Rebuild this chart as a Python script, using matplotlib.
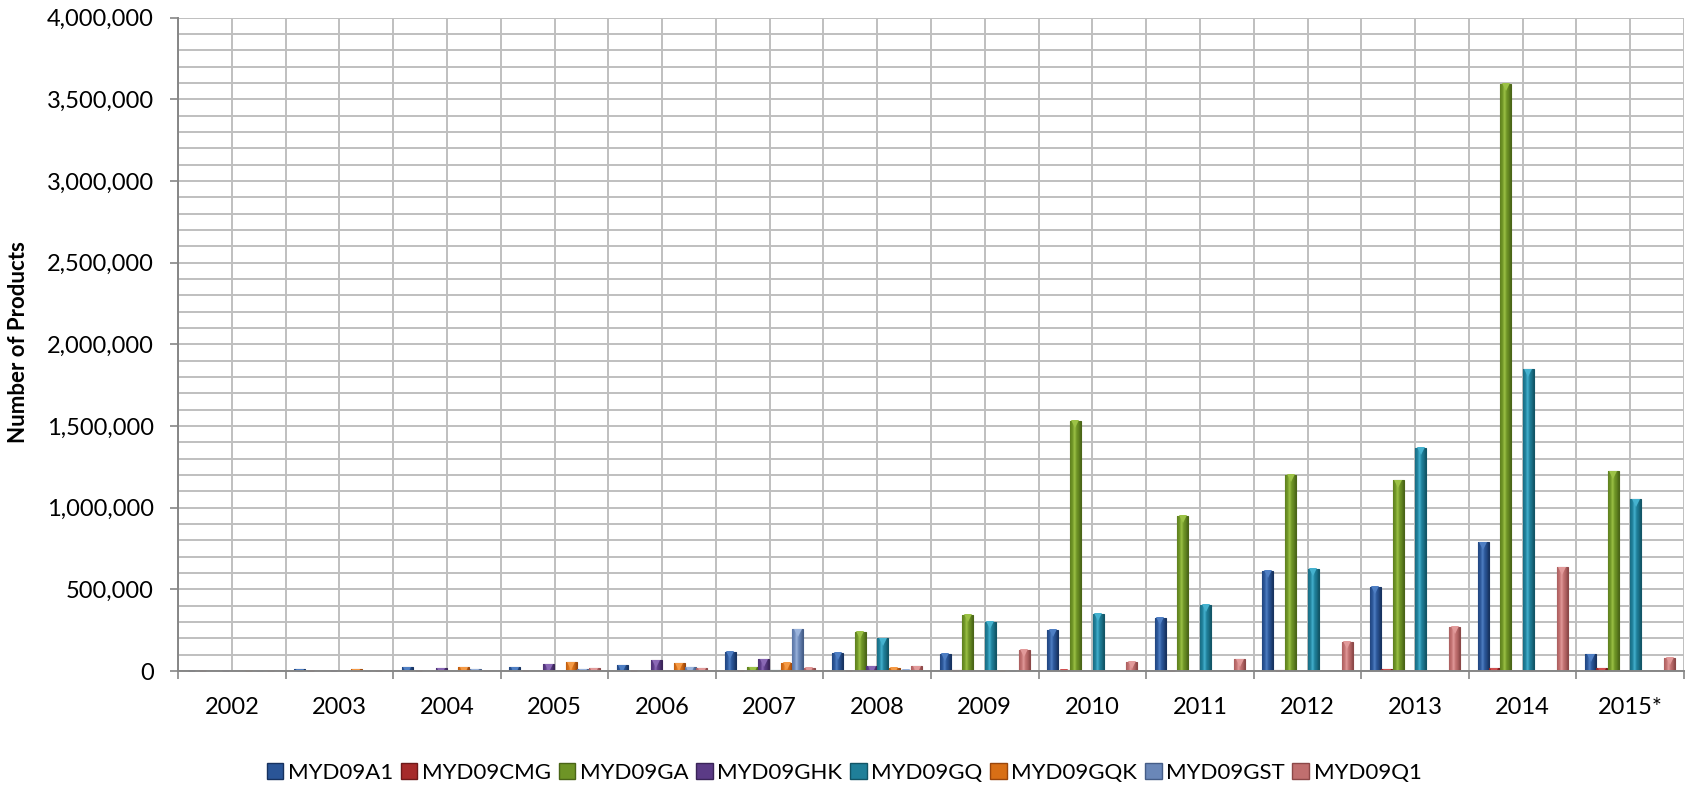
import numpy as np
import matplotlib
matplotlib.use("Agg")
import matplotlib.pyplot as plt
from matplotlib.patches import Patch
from matplotlib import transforms
from matplotlib.ticker import FuncFormatter, MultipleLocator

# ---- data ----
years = ['2002', '2003', '2004', '2005', '2006', '2007', '2008',
         '2009', '2010', '2011', '2012', '2013', '2014', '2015*']

series_names = ['MYD09A1', 'MYD09CMG', 'MYD09GA', 'MYD09GHK',
                'MYD09GQ', 'MYD09GQK', 'MYD09GST', 'MYD09Q1']

myd09a1 = [2000, 10000, 22000, 22000, 35000, 119000, 112000, 106000,
           251000, 327000, 614000, 516000, 788000, 104000]
myd09cmg = [1000, 1000, 2000, 2000, 3000, 3000, 3000, 5000,
            7000, 3000, 5000, 10000, 16000, 16000]
myd09ga = [0, 0, 0, 0, 0, 22000, 241000, 345000,
           1533000, 951000, 1202000, 1169000, 3595000, 1222000]
myd09ghk = [1000, 1000, 16000, 41000, 67000, 71000, 29000, 0,
            0, 0, 0, 0, 0, 0]
myd09gq = [0, 0, 0, 0, 0, 5000, 200000, 302000,
           350000, 405000, 625000, 1368000, 1848000, 1050000]
myd09gqk = [2000, 10000, 22000, 53000, 47000, 52000, 21000, 1000,
            0, 0, 0, 0, 0, 0]
myd09gst = [2000, 2000, 11000, 11000, 22000, 255000, 8000, 1000,
            0, 0, 0, 0, 0, 0]
myd09q1 = [2000, 2000, 3000, 16000, 16000, 21000, 29000, 129000,
           57000, 73000, 178000, 271000, 636000, 82000]

values = [myd09a1, myd09cmg, myd09ga, myd09ghk,
          myd09gq, myd09gqk, myd09gst, myd09q1]

# (edge, body, highlight) colours for each series
palette = [
    ('#17325f', '#2a5597', '#4f7fc4'),
    ('#6e1a1a', '#a62b2b', '#d05050'),
    ('#4a6517', '#6e9426', '#9cc246'),
    ('#3a2458', '#5b3b86', '#8a68b5'),
    ('#125566', '#1f7f99', '#45b2cf'),
    ('#99460c', '#d86f16', '#f59a45'),
    ('#455d87', '#6a87b8', '#9bb4dc'),
    ('#8c4848', '#c06f6f', '#e29a9a'),
]

plt.rcParams['font.family'] = ['Lato', 'DejaVu Sans']

fig = plt.figure(figsize=(16.88, 7.97), dpi=100)
ax = fig.add_axes([178 / 1688, 1 - 671 / 797, (1684 - 178) / 1688, (671 - 17.6) / 797])

n_series = len(series_names)
gap = 1.5                      # gap between groups, in bar widths
bw = 1.0 / (n_series + gap)
x = np.arange(len(years))


def hex2rgb(h):
    h = h.lstrip('#')
    return np.array([int(h[i:i + 2], 16) / 255 for i in (0, 2, 4)])


def cylinder_gradient(edge, body, light, n=64):
    t = np.linspace(0, 1, n)
    e, b, l = hex2rgb(edge), hex2rgb(body), hex2rgb(light)
    d = np.abs(t - 0.42) / 0.58
    cols = []
    for di in d:
        if di < 0.35:
            w = di / 0.35
            c = l * (1 - w) + b * w
        else:
            w = ((di - 0.35) / 0.65) ** 1.4
            c = b * (1 - w) + e * w
        cols.append(c)
    return np.array(cols)[None, :, :]


tri_offset = transforms.offset_copy(ax.transData, fig=fig, x=0, y=-3.5, units='dots')

for i, (name, vals) in enumerate(zip(series_names, values)):
    edge, body, light = palette[i]
    pos = x - 0.5 + gap / 2 * bw + (i + 0.5) * bw
    bars = ax.bar(pos, vals, width=bw * 0.97, color=body, edgecolor=edge,
                  linewidth=0.8, zorder=3, label=name)
    grad = cylinder_gradient(edge, body, light)
    for rect, v in zip(bars, vals):
        if v <= 0:
            continue
        x0 = rect.get_x()
        w = rect.get_width()
        im = ax.imshow(grad, extent=(x0, x0 + w, 0, v), aspect='auto',
                       zorder=3.5, interpolation='bilinear')
        im.set_clip_path(rect)
    # small light triangle on each bar top
    tops = np.array(vals)
    mask = tops > 0
    ax.plot(pos[mask], tops[mask], linestyle='none', marker='v',
            markersize=5.5, color=light, markeredgewidth=0,
            transform=tri_offset, zorder=4)

ax.set_xlim(-0.5, len(years) - 0.5)
ax.set_ylim(0, 4000000)

# gridlines
ax.yaxis.set_major_locator(MultipleLocator(500000))
ax.yaxis.set_minor_locator(MultipleLocator(100000))
ax.grid(which='both', axis='y', color='#bfbfbf', linewidth=1.4, zorder=0)
for xv in np.arange(-0.5, len(years), 0.5):
    ax.axvline(xv, color='#bfbfbf', linewidth=1.4, zorder=0)

ax.yaxis.set_major_formatter(FuncFormatter(lambda v, p: f'{int(v):,}'))
ax.tick_params(axis='y', which='major', length=5.5, width=1.2, color='#868686',
               labelsize=17, pad=12, labelcolor='#000000')
ax.tick_params(axis='y', which='minor', length=0)

ax.set_xticks(x)
ax.set_xticklabels(years)
ax.set_xticks(np.arange(-0.5, len(years), 1.0), minor=True)
ax.tick_params(axis='x', which='major', length=0, labelsize=17, pad=19)
ax.tick_params(axis='x', which='minor', length=6, width=1.2, color='#868686')

for side in ['top', 'right']:
    ax.spines[side].set_visible(False)
for side in ['left', 'bottom']:
    ax.spines[side].set_color('#868686')
    ax.spines[side].set_linewidth(1.4)
    ax.spines[side].set_zorder(5)

fig.text(19 / 1688, 1 - 342 / 797, 'Number of Products', rotation=90,
         fontsize=16, fontweight='bold', ha='center', va='center')

handles = [Patch(facecolor=palette[i][1], edgecolor=palette[i][0], linewidth=1.0)
           for i in range(n_series)]
fig.legend(handles, series_names, loc='center', ncol=n_series,
           bbox_to_anchor=(0.5, 1 - 773 / 797), frameon=False, fontsize=16,
           handlelength=0.75, handleheight=0.75, handletextpad=0.2,
           columnspacing=0.35)

fig.savefig('out.png', dpi=100)
